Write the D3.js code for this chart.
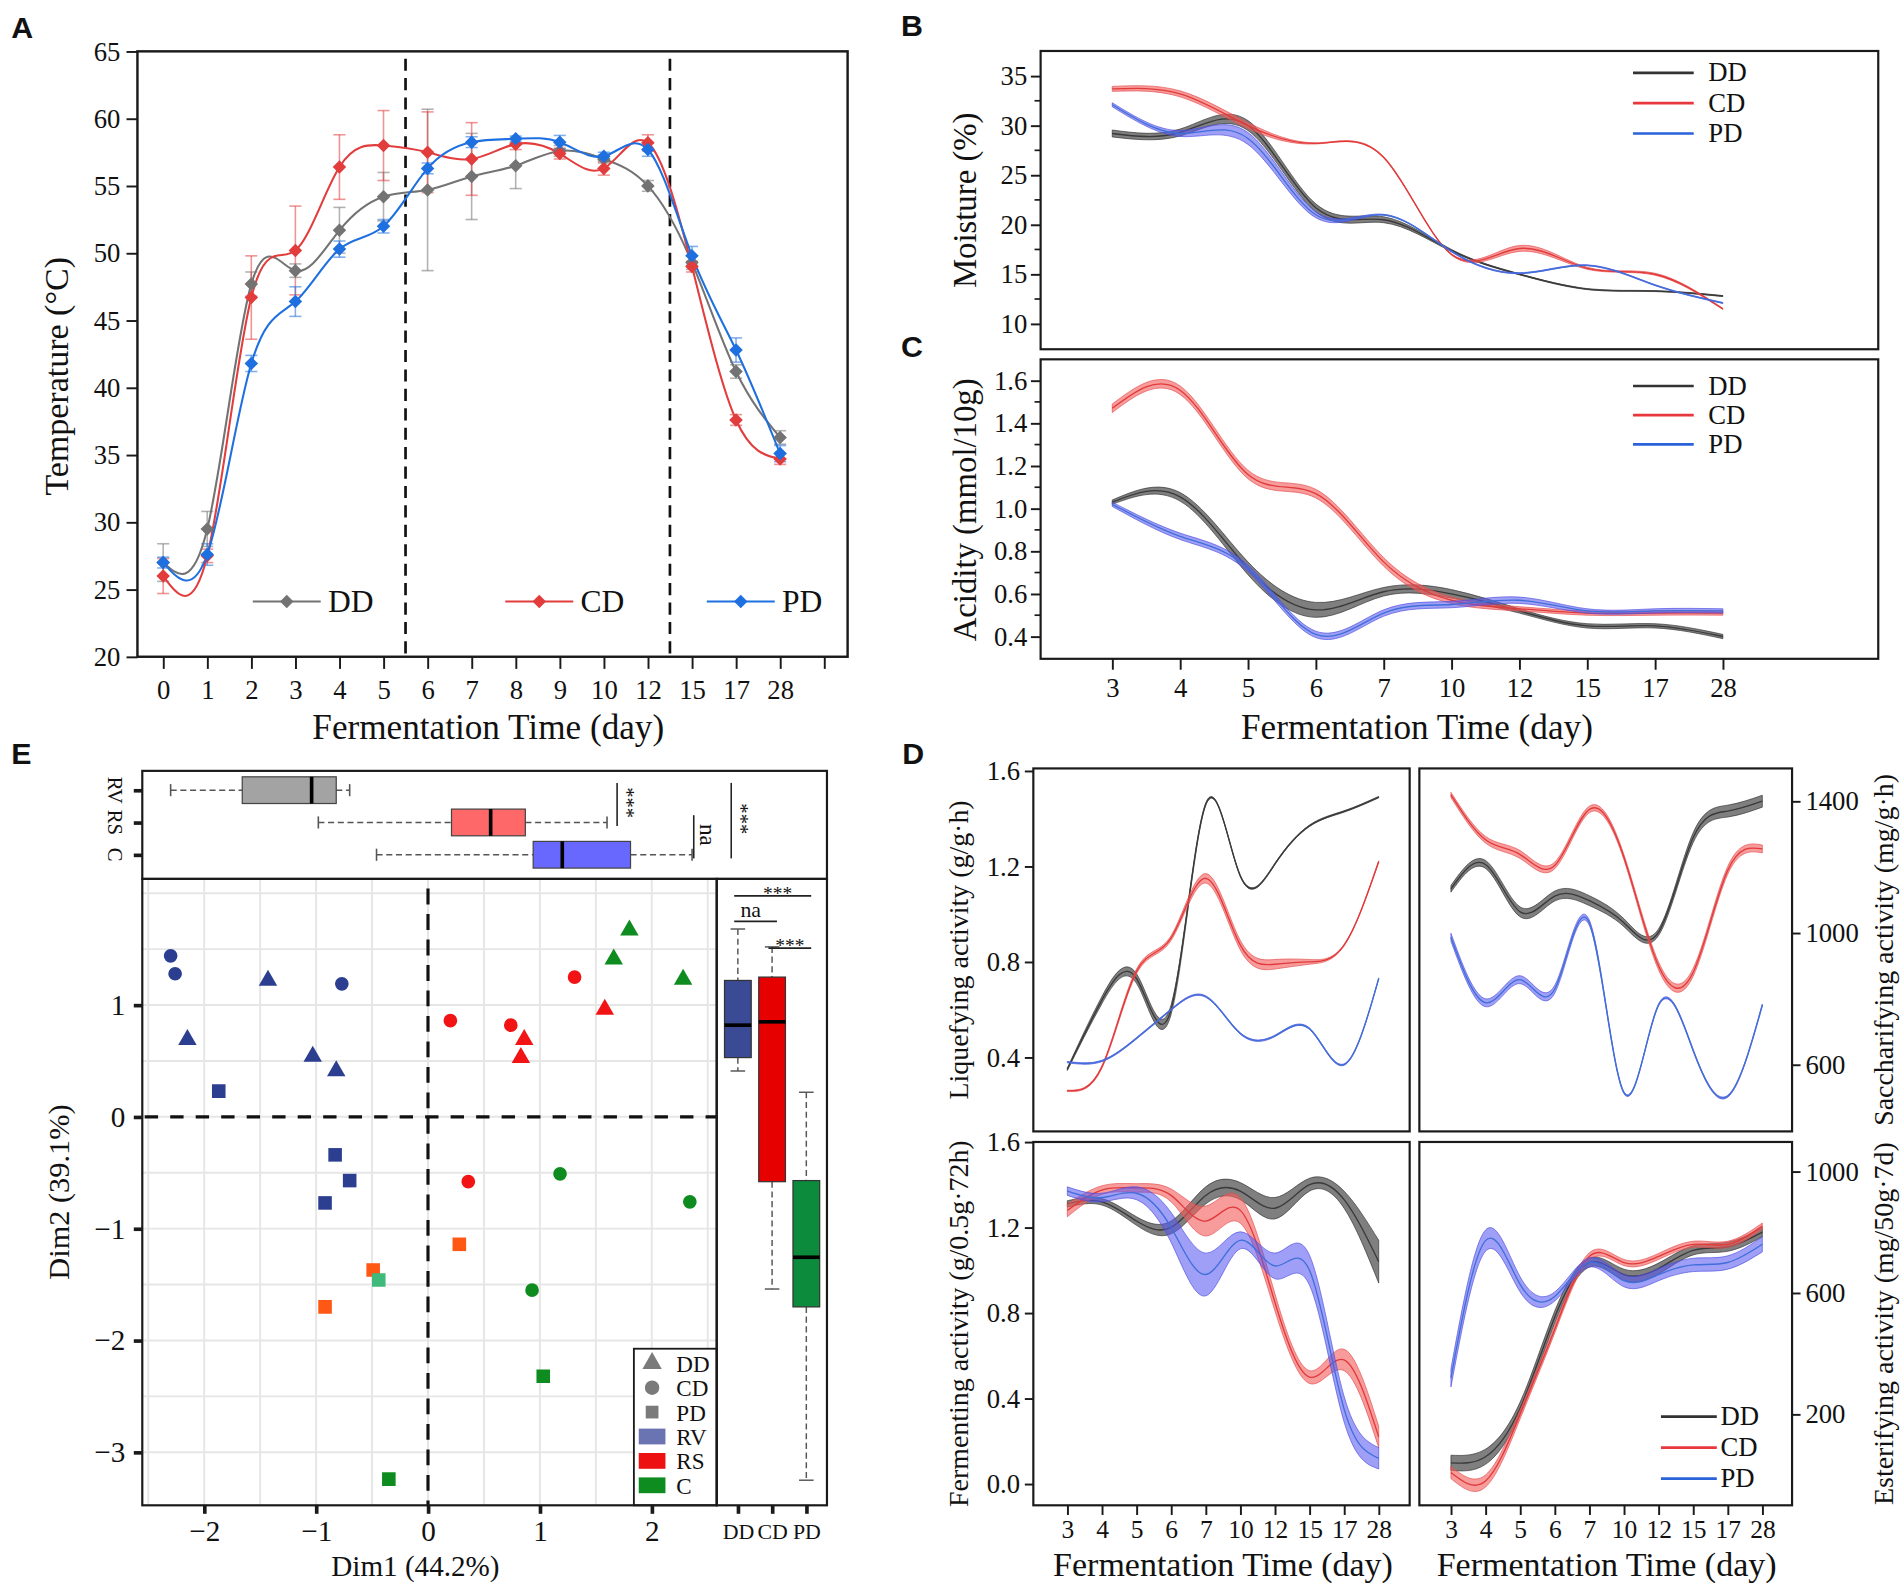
<!DOCTYPE html>
<html>
<head>
<meta charset="UTF-8">
<title>Fermentation figure</title>
<script src="https://d3js.org/d3.v7.min.js"></script>
<style>
  body { margin: 0; background: #fff; }
  svg { display: block; }
  text { font-family: "Liberation Serif", "Times New Roman", Times, serif; fill: #111; }
</style>
</head>
<body>
<div id="chart"></div>
<script>
// ---------------- data ----------------
// A: temperature
const daysA = ["0","1","2","3","4","5","6","7","8","9","10","12","15","17","28"];
const tempDD    = [27.0, 29.5, 47.7, 48.7, 51.7, 54.2, 54.7, 55.7, 56.5, 57.6, 57.0, 55.0, 49.3, 41.2, 36.3];
const tempDDErr = [1.4, 1.3, 0.9, 0.5, 1.7, 1.8, 6.0, 3.2, 1.7, 0.4, 0.3, 0.4, 0.5, 0.5, 0.5];
const tempCD    = [26.0, 27.5, 46.7, 50.2, 56.4, 58.0, 57.5, 57.0, 58.1, 57.4, 56.3, 58.2, 49.0, 37.6, 34.7];
const tempCDErr = [1.3, 0.5, 3.1, 3.3, 2.4, 2.6, 3.0, 2.7, 0.4, 0.4, 0.5, 0.6, 0.4, 0.4, 0.4];
const tempPD    = [27.0, 27.6, 41.8, 46.4, 50.3, 52.0, 56.3, 58.25, 58.5, 58.25, 57.2, 57.7, 49.8, 42.8, 35.1];
const tempPDErr = [0.4, 0.8, 0.6, 1.1, 0.6, 0.5, 0.4, 0.4, 0.2, 0.5, 0.3, 0.5, 0.7, 0.9, 0.6];

// B, C, D share these sampling days
const daysD = ["3","4","5","6","7","10","12","15","17","28"];

// B: moisture (%)
const moistDD   = [29.2, 29.3, 30.0, 21.7, 20.5, 17.4, 15.0, 13.5, 13.3, 12.8];
const moistDDsd = [0.35, 0.35, 0.5, 0.4, 0.3, 0.1, 0.05, 0.05, 0.05, 0.05];
const moistCD   = [33.7, 33.2, 30.0, 28.2, 26.8, 17.0, 17.6, 15.6, 15.0, 11.5];
const moistCDsd = [0.25, 0.3, 0.3, 0.06, 0.06, 0.06, 0.3, 0.1, 0.1, 0.05];
const moistPD   = [32.1, 29.2, 28.7, 21.0, 21.0, 17.3, 15.1, 15.9, 13.9, 12.1];
const moistPDsd = [0.2, 0.3, 0.6, 0.3, 0.05, 0.05, 0.05, 0.05, 0.05, 0.05];

// C: acidity (mmol/10g)
const acidDD   = [1.03, 1.055, 0.72, 0.525, 0.61, 0.60, 0.52, 0.45, 0.45, 0.40];
const acidDDsd = [0.01, 0.02, 0.03, 0.035, 0.02, 0.02, 0.01, 0.01, 0.01, 0.01];
const acidCD   = [1.47, 1.555, 1.16, 1.07, 0.75, 0.57, 0.53, 0.51, 0.51, 0.51];
const acidCDsd = [0.02, 0.02, 0.02, 0.02, 0.02, 0.015, 0.01, 0.01, 0.01, 0.01];
const acidPD   = [1.02, 0.87, 0.72, 0.41, 0.51, 0.55, 0.57, 0.52, 0.52, 0.52];
const acidPDsd = [0.01, 0.015, 0.015, 0.015, 0.015, 0.015, 0.015, 0.01, 0.01, 0.01];

// D: enzyme activities
const liqDD   = [0.35, 0.64, 0.73, 0.60, 1.46, 1.16, 1.21, 1.37, 1.43, 1.49];
const liqDDsd = [0.005, 0.015, 0.02, 0.02, 0.005, 0.003, 0.003, 0.003, 0.003, 0.003];
const liqCD   = [0.26, 0.36, 0.76, 0.90, 1.15, 0.87, 0.79, 0.80, 0.87, 1.22];
const liqCDsd = [0.003, 0.005, 0.01, 0.01, 0.02, 0.02, 0.02, 0.01, 0.003, 0.003];
const liqPD   = [0.38, 0.385, 0.48, 0.60, 0.655, 0.50, 0.49, 0.52, 0.37, 0.73];
const liqPDsd = [0.003, 0.003, 0.003, 0.003, 0.003, 0.003, 0.003, 0.003, 0.003, 0.003];

const sacDD   = [1134, 1208, 1064, 1112, 1098, 1031, 1002, 1289, 1370, 1400];
const sacDDsd = [10, 12, 15, 15, 15, 12, 10, 15, 18, 18];
const sacCD   = [1419, 1283, 1238, 1205, 1375, 1230, 900, 880, 1190, 1255];
const sacCDsd = [8, 10, 12, 10, 10, 8, 12, 12, 12, 12];
const sacPD   = [987, 788, 858, 829, 1031, 515, 781, 644, 504, 781];
const sacPDsd = [12, 12, 12, 12, 8, 3, 3, 3, 3, 3];

const ferDD   = [1.31, 1.32, 1.23, 1.20, 1.35, 1.37, 1.29, 1.40, 1.33, 1.04];
const ferDDsd = [0.015, 0.015, 0.02, 0.03, 0.04, 0.04, 0.05, 0.03, 0.04, 0.1];
const ferCD   = [1.28, 1.375, 1.385, 1.35, 1.23, 1.28, 0.85, 0.50, 0.58, 0.22];
const ferCDsd = [0.03, 0.02, 0.02, 0.03, 0.07, 0.06, 0.04, 0.03, 0.05, 0.05];
const ferPD   = [1.37, 1.34, 1.36, 1.20, 0.98, 1.14, 1.02, 1.00, 0.35, 0.12];
const ferPDsd = [0.02, 0.02, 0.03, 0.07, 0.10, 0.04, 0.06, 0.07, 0.06, 0.05];

const estDD   = [40, 60, 220, 520, 700, 660, 680, 740, 752, 800];
const estDDsd = [25, 25, 20, 20, 15, 18, 18, 15, 15, 15];
const estCD   = [8, -20, 200, 480, 720, 700, 720, 760, 760, 820];
const estCDsd = [20, 20, 15, 12, 12, 10, 10, 10, 10, 10];
const estPD   = [320, 772, 628, 588, 700, 640, 660, 692, 700, 760];
const estPDsd = [30, 35, 25, 15, 15, 20, 20, 22, 22, 25];

// E: PCA scores
const pcaDim1  = [-2.30, -2.26, -0.77, -2.15, -1.43, -1.03, -0.82, -1.87, -0.83, -0.70, -0.92,
                  0.20, 0.74, 1.31, 0.36, 0.86, 0.83, 1.58, 0.28, -0.49, -0.92,
                  -0.44, 1.18, 2.34, 0.93, 1.80, 1.66, 2.28, 1.03, -0.35];
const pcaDim2  = [1.44, 1.28, 1.19, 0.69, 1.22, 0.54, 0.41, 0.23, -0.34, -0.57, -0.77,
                  0.86, 0.82, 1.25, -0.58, 0.69, 0.53, 0.96, -1.14, -1.37, -1.70,
                  -1.46, -0.51, -0.76, -1.55, 1.67, 1.41, 1.23, -2.32, -3.24];
const pcaMethod = ["CD","CD","CD","DD","DD","DD","DD","PD","PD","PD","PD",
                   "CD","CD","CD","CD","DD","DD","DD","PD","PD","PD",
                   "PD","CD","CD","CD","DD","DD","DD","PD","PD"];
const pcaGroup  = ["RV","RV","RV","RV","RV","RV","RV","RV","RV","RV","RV",
                   "RS","RS","RS","RS","RS","RS","RS","RSb","RSb","RSb",
                   "Cb","C","C","C","C","C","C","C","C"];

// E: boxplots of Dim1 by group (top) and Dim2 by method (right)
const boxGroups = ["RV","RS","C"];
const gMin = [-2.30, -0.98, -0.46];
const gQ1  = [-1.66, 0.21, 0.94];
const gMed = [-1.04, 0.56, 1.20];
const gQ3  = [-0.82, 0.87, 1.81];
const gMax = [-0.70, 1.60, 2.36];

const boxMethods = ["DD","CD","PD"];
const mMin = [0.41, -1.54, -3.25];
const mQ1  = [0.53, -0.58, -1.70];
const mMed = [0.82, 0.85, -1.256];
const mQ3  = [1.22, 1.25, -0.57];
const mMax = [1.68, 1.52, 0.22];

// ---------------- setup ----------------
const SERIF = '"Liberation Serif", "Times New Roman", Times, serif';
const SANS = '"Liberation Sans", Arial, sans-serif';

const svg = d3.select("#chart").append("svg")
  .attr("width", 1904).attr("height", 1583)
  .attr("viewBox", "0 0 1568 1304");
svg.append("rect").attr("width", 1568).attr("height", 1304).attr("fill", "#fff");
const defs = svg.append("defs");

function clip(id, f) {
  defs.append("clipPath").attr("id", id).append("rect")
    .attr("x", f.l).attr("y", f.t).attr("width", f.r - f.l).attr("height", f.b - f.t);
}
function frame(g, f, w) {
  g.append("rect").attr("x", f.l).attr("y", f.t).attr("width", f.r - f.l).attr("height", f.b - f.t)
    .attr("fill", "none").attr("stroke", "#1a1a1a").attr("stroke-width", w || 1.8);
}
function text(g, x, y, str, size, anchor, family, weight) {
  const t = g.append("text").attr("x", x).attr("y", y).text(str)
    .attr("font-size", size).attr("text-anchor", anchor || "start")
    .style("font-family", family || SERIF);
  if (weight) t.attr("font-weight", weight);
  return t;
}
function vtext(g, cx, cy, str, size, rot) {
  return g.append("text").attr("transform", `translate(${cx},${cy}) rotate(${rot || -90})`)
    .attr("text-anchor", "middle").attr("dy", "0.35em")
    .attr("font-size", size).style("font-family", SERIF).text(str);
}
function tidy(sel, size, lw) {
  sel.attr("font-family", null).attr("font-size", null);
  sel.select(".domain").remove();
  sel.selectAll(".tick line").attr("stroke", "#1a1a1a").attr("stroke-width", lw || 1.6);
  sel.selectAll(".tick text").attr("font-size", size).attr("fill", "#111").style("font-family", SERIF);
}
function minorTicks(g, scale, values, x, len) {
  g.selectAll(null).data(values).join("line")
    .attr("x1", x - len).attr("x2", x).attr("y1", d => scale(d)).attr("y2", d => scale(d))
    .attr("stroke", "#1a1a1a").attr("stroke-width", 1.4);
}

const bandStyle = {
  DD: { fill: "#4d4d4d", alpha: 0.72, edge: "#333", line: "#3a3a3a", key: "#333333" },
  CD: { fill: "#f25e5e", alpha: 0.62, edge: "#e65050", line: "#e23a3a", key: "#e8383d" },
  PD: { fill: "#5a5af2", alpha: 0.58, edge: "#5050e0", line: "#3f6fd8", key: "#2962d9" }
};

function bands(g, x, y, list, clipId) {
  list.forEach(s => {
    const st = bandStyle[s.name];
    const pts = daysD.map((d, i) => [d, s.mean[i], s.sd[i]]);
    g.append("path").datum(pts).attr("clip-path", `url(#${clipId})`)
      .attr("d", d3.area().curve(d3.curveNatural)
        .x(p => x(p[0])).y0(p => y(p[1] - p[2])).y1(p => y(p[1] + p[2])))
      .attr("fill", st.fill).attr("fill-opacity", st.alpha)
      .attr("stroke", st.edge).attr("stroke-width", 0.7).attr("stroke-opacity", 0.8);
    g.append("path").datum(pts).attr("clip-path", `url(#${clipId})`)
      .attr("d", d3.line().curve(d3.curveNatural).x(p => x(p[0])).y(p => y(p[1])))
      .attr("fill", "none").attr("stroke", st.line).attr("stroke-width", 1.1);
  });
}
function keyLegend(g, x, y0, step, size, len, gap) {
  ["DD", "CD", "PD"].forEach((n, i) => {
    const y = y0 + i * step;
    g.append("line").attr("x1", x).attr("x2", x + len).attr("y1", y).attr("y2", y)
      .attr("stroke", bandStyle[n].key).attr("stroke-width", 2.2);
    text(g, x + len + gap, y + 7, n, size);
  });
}

// panel letters
[["A", 9, 31], ["B", 742, 30], ["C", 742, 294], ["D", 743, 629], ["E", 9, 629]].forEach(([s, x, y]) =>
  text(svg, x, y, s, 25, "start", SANS, "bold"));

// ---------------- A ----------------
const gA = svg.append("g");
const fA = { l: 113, r: 698, t: 42.3, b: 541 };
const xA = d3.scalePoint().domain(d3.range(daysA.length + 1)).range([134.2, 678.7]);
const yA = d3.scaleLinear().domain([20, 65]).range([541, 42.3]);
const colA = { DD: "#737373", CD: "#e23c3c", PD: "#1e6fdf" };
const seriesA = [
  { name: "DD", v: tempDD, e: tempDDErr },
  { name: "CD", v: tempCD, e: tempCDErr },
  { name: "PD", v: tempPD, e: tempPDErr }
];

// stage separators, halfway between day 5/6 and day 12/15
[[5, 6], [11, 12]].forEach(([a, b]) => {
  const x = (xA(a) + xA(b)) / 2;
  gA.append("line").attr("x1", x).attr("x2", x).attr("y1", fA.t + 6).attr("y2", fA.b)
    .attr("stroke", "#111").attr("stroke-width", 2.2).attr("stroke-dasharray", "10,6");
});

seriesA.forEach(s => {
  const eg = gA.append("g").attr("stroke", colA[s.name]).attr("stroke-opacity", 0.55).attr("stroke-width", 1.3);
  s.v.forEach((v, i) => {
    const x = xA(i), y1 = yA(v - s.e[i]), y2 = yA(v + s.e[i]);
    eg.append("line").attr("x1", x).attr("x2", x).attr("y1", y1).attr("y2", y2);
    eg.append("line").attr("x1", x - 5).attr("x2", x + 5).attr("y1", y1).attr("y2", y1);
    eg.append("line").attr("x1", x - 5).attr("x2", x + 5).attr("y1", y2).attr("y2", y2);
  });
});
const lineA = d3.line().curve(d3.curveNatural).x((d, i) => xA(i)).y(d => yA(d));
seriesA.forEach(s => {
  gA.append("path").datum(s.v).attr("d", lineA)
    .attr("fill", "none").attr("stroke", colA[s.name]).attr("stroke-width", 1.7);
});
const diamond = d3.symbol(d3.symbolSquare, 62);
seriesA.forEach(s => {
  gA.selectAll(null).data(s.v).join("path")
    .attr("d", diamond)
    .attr("transform", (d, i) => `translate(${xA(i)},${yA(d)}) rotate(45)`)
    .attr("fill", colA[s.name]);
});
[["DD", 208], ["CD", 416], ["PD", 582]].forEach(([n, x]) => {
  const y = 495.5;
  gA.append("line").attr("x1", x).attr("x2", x + 56).attr("y1", y).attr("y2", y)
    .attr("stroke", colA[n]).attr("stroke-width", 1.8);
  gA.append("path").attr("d", diamond).attr("transform", `translate(${x + 28},${y}) rotate(45)`)
    .attr("fill", colA[n]);
  text(gA, x + 62, y + 9, n, 26);
});
gA.append("g").attr("transform", `translate(${fA.l},0)`)
  .call(d3.axisLeft(yA).tickValues(d3.range(20, 66, 5)).tickSize(9).tickPadding(5))
  .call(s => tidy(s, 22));
gA.append("g").attr("transform", `translate(0,${fA.b})`)
  .call(d3.axisBottom(xA).tickSize(10).tickPadding(9).tickFormat(i => daysA[i] || ""))
  .call(s => tidy(s, 22));
frame(gA, fA, 2);
text(gA, 402, 609, "Fermentation Time (day)", 29, "middle");
vtext(gA, 46, 310, "Temperature (°C)", 28);

// ---------------- B ----------------
const xBC = d3.scalePoint().domain(daysD).range([916, 1419]);
const gB = svg.append("g");
const fB = { l: 857, r: 1547, t: 42, b: 287.7 };
const yMoist = d3.scaleLinear().domain([15, 35]).range([225.9, 62.6]);
clip("cB", fB);
bands(gB, xBC, yMoist, [
  { name: "DD", mean: moistDD, sd: moistDDsd },
  { name: "CD", mean: moistCD, sd: moistCDsd },
  { name: "PD", mean: moistPD, sd: moistPDsd }
], "cB");
gB.append("g").attr("transform", `translate(${fB.l},0)`)
  .call(d3.axisLeft(yMoist).tickValues(d3.range(10, 36, 5)).tickSize(8).tickPadding(3))
  .call(s => tidy(s, 22));
minorTicks(gB, yMoist, [12.5, 17.5, 22.5, 27.5, 32.5], fB.l, 5);
frame(gB, fB);
keyLegend(gB, 1345, 60, 25, 22, 50, 12);
vtext(gB, 794, 165, "Moisture (%)", 27);

// ---------------- C ----------------
const gC = svg.append("g");
const fC = { l: 857, r: 1547, t: 296, b: 542.7 };
const yAcid = d3.scaleLinear().domain([0.6, 1.6]).range([489.2, 313.5]);
clip("cC", fC);
bands(gC, xBC, yAcid, [
  { name: "DD", mean: acidDD, sd: acidDDsd },
  { name: "CD", mean: acidCD, sd: acidCDsd },
  { name: "PD", mean: acidPD, sd: acidPDsd }
], "cC");
gC.append("g").attr("transform", `translate(${fC.l},0)`)
  .call(d3.axisLeft(yAcid).tickValues([0.4, 0.6, 0.8, 1.0, 1.2, 1.4, 1.6]).tickSize(8).tickPadding(3)
    .tickFormat(d3.format(".1f")))
  .call(s => tidy(s, 22));
minorTicks(gC, yAcid, [0.5, 0.7, 0.9, 1.1, 1.3, 1.5], fC.l, 5);
gC.append("g").attr("transform", `translate(0,${fC.b})`)
  .call(d3.axisBottom(xBC).tickSize(9).tickPadding(7))
  .call(s => tidy(s, 22));
frame(gC, fC);
keyLegend(gC, 1345, 318, 24, 22, 50, 12);
vtext(gC, 794, 420, "Acidity (mmol/10g)", 27);
text(gC, 1167, 609, "Fermentation Time (day)", 29, "middle");

// ---------------- D ----------------
const gD = svg.append("g");
const DL = { l: 851, r: 1161 }, DR = { l: 1169, r: 1476 };
const DT = { t: 633, b: 932 }, DB = { t: 940.7, b: 1240 };
const fTL = { ...DL, ...DT }, fTR = { ...DR, ...DT }, fBL = { ...DL, ...DB }, fBR = { ...DR, ...DB };
const xDL = d3.scalePoint().domain(daysD).range([879, 1135.5]);
const xDR = d3.scalePoint().domain(daysD).range([1195, 1451.5]);
const yLiq = d3.scaleLinear().domain([0.4, 1.6]).range([871, 635]);
const ySac = d3.scaleLinear().domain([600, 1400]).range([877, 660]);
const yFer = d3.scaleLinear().domain([0, 1.6]).range([1222.4, 940.7]);
const yEst = d3.scaleLinear().domain([200, 1000]).range([1165, 965]);
[["cTL", fTL], ["cTR", fTR], ["cBL", fBL], ["cBR", fBR]].forEach(([id, f]) => clip(id, f));

bands(gD, xDL, yLiq, [
  { name: "DD", mean: liqDD, sd: liqDDsd },
  { name: "CD", mean: liqCD, sd: liqCDsd },
  { name: "PD", mean: liqPD, sd: liqPDsd }
], "cTL");
bands(gD, xDR, ySac, [
  { name: "DD", mean: sacDD, sd: sacDDsd },
  { name: "CD", mean: sacCD, sd: sacCDsd },
  { name: "PD", mean: sacPD, sd: sacPDsd }
], "cTR");
bands(gD, xDL, yFer, [
  { name: "DD", mean: ferDD, sd: ferDDsd },
  { name: "CD", mean: ferCD, sd: ferCDsd },
  { name: "PD", mean: ferPD, sd: ferPDsd }
], "cBL");
bands(gD, xDR, yEst, [
  { name: "DD", mean: estDD, sd: estDDsd },
  { name: "CD", mean: estCD, sd: estCDsd },
  { name: "PD", mean: estPD, sd: estPDsd }
], "cBR");

const intFmt = d3.format("d");
gD.append("g").attr("transform", `translate(${DL.l},0)`)
  .call(d3.axisLeft(yLiq).tickValues([0.4, 0.8, 1.2, 1.6]).tickSize(7).tickPadding(4).tickFormat(d3.format(".1f")))
  .call(s => tidy(s, 22));
gD.append("g").attr("transform", `translate(${DL.l},0)`)
  .call(d3.axisLeft(yFer).tickValues([0, 0.4, 0.8, 1.2, 1.6]).tickSize(7).tickPadding(4).tickFormat(d3.format(".1f")))
  .call(s => tidy(s, 22));
gD.append("g").attr("transform", `translate(${DR.r},0)`)
  .call(d3.axisRight(ySac).tickValues([600, 1000, 1400]).tickSize(7).tickPadding(4).tickFormat(intFmt))
  .call(s => tidy(s, 22));
gD.append("g").attr("transform", `translate(${DR.r},0)`)
  .call(d3.axisRight(yEst).tickValues([200, 600, 1000]).tickSize(7).tickPadding(4).tickFormat(intFmt))
  .call(s => tidy(s, 22));
gD.append("g").attr("transform", `translate(0,${DB.b})`)
  .call(d3.axisBottom(xDL).tickSize(8).tickPadding(4)).call(s => tidy(s, 21));
gD.append("g").attr("transform", `translate(0,${DB.b})`)
  .call(d3.axisBottom(xDR).tickSize(8).tickPadding(4)).call(s => tidy(s, 21));
[fTL, fTR, fBL, fBR].forEach(f => frame(gD, f));
keyLegend(gD, 1368, 1167, 25.5, 22, 46, 3);
vtext(gD, 789, (DT.t + DT.b) / 2, "Liquefying activity (g/g·h)", 23);
vtext(gD, 789, (DB.t + DB.b) / 2, "Fermenting activity (g/0.5g·72h)", 23);
vtext(gD, 1551, (DT.t + DT.b) / 2, "Saccharifying activity (mg/g·h)", 23);
vtext(gD, 1551, (DB.t + DB.b) / 2, "Esterifying activity (mg/50g·7d)", 23);
text(gD, (879 + 1135.5) / 2, 1298, "Fermentation Time (day)", 28, "middle");
text(gD, (1195 + 1451.5) / 2, 1298, "Fermentation Time (day)", 28, "middle");

// ---------------- E ----------------
const gE = svg.append("g");
const fTop = { l: 117, r: 681, t: 635, b: 724 };
const fSc = { l: 117, r: 590.2, t: 724, b: 1240 };
const fRt = { l: 590.2, r: 681, t: 724, b: 1240 };
const xDim1 = d3.scaleLinear().domain([-2, 2]).range([168, 536.7]);
const yDim2 = d3.scaleLinear().domain([-3, 1]).range([1196.3, 827.9]);
clip("cSc", fSc);

// grid
const grid = gE.append("g").attr("clip-path", "url(#cSc)").attr("stroke", "#e6e6e6").attr("stroke-width", 1.6);
d3.range(-2.5, 2.51, 0.5).forEach(v =>
  grid.append("line").attr("x1", xDim1(v)).attr("x2", xDim1(v)).attr("y1", fSc.t).attr("y2", fSc.b));
d3.range(-3.5, 2.01, 0.5).forEach(v =>
  grid.append("line").attr("x1", fSc.l).attr("x2", fSc.r).attr("y1", yDim2(v)).attr("y2", yDim2(v)));
gE.append("line").attr("x1", xDim1(0)).attr("x2", xDim1(0)).attr("y1", fSc.t + 8).attr("y2", fSc.b)
  .attr("stroke", "#111").attr("stroke-width", 2.6).attr("stroke-dasharray", "13,8");
gE.append("line").attr("x1", fSc.l + 2).attr("x2", fSc.r).attr("y1", yDim2(0)).attr("y2", yDim2(0))
  .attr("stroke", "#111").attr("stroke-width", 2.6).attr("stroke-dasharray", "11,10");

const pcaColour = { RV: "#2c3e8f", RS: "#f21414", RSb: "#ff5714", C: "#0f8c1f", Cb: "#3fba7a" };
const pcaSymbol = {
  DD: d3.symbol(d3.symbolTriangle, 100),
  CD: d3.symbol(d3.symbolCircle, 100),
  PD: d3.symbol(d3.symbolSquare, 125)
};
gE.append("g").attr("clip-path", "url(#cSc)").selectAll("path").data(d3.range(pcaDim1.length)).join("path")
  .attr("d", i => pcaSymbol[pcaMethod[i]]())
  .attr("transform", i => `translate(${xDim1(pcaDim1[i])},${yDim2(pcaDim2[i])})`)
  .attr("fill", i => pcaColour[pcaGroup[i]]);

// legend inside scatter
const lg = { l: xDim1(1.84), r: fSc.r, t: yDim2(-2.074), b: fSc.b };
gE.append("rect").attr("x", lg.l).attr("y", lg.t).attr("width", lg.r - lg.l).attr("height", lg.b - lg.t)
  .attr("fill", "#fff").attr("stroke", "#1a1a1a").attr("stroke-width", 1.5);
const legendShape = { DD: d3.symbolTriangle, CD: d3.symbolCircle, PD: d3.symbolSquare };
const legendFill = { RV: "#6a74b2", RS: "#ee1111", C: "#0f8c1f" };
["DD", "CD", "PD", "RV", "RS", "C"].forEach((n, i) => {
  const y = lg.t + 12 + i * 20.1;
  if (legendShape[n]) {
    gE.append("path").attr("d", d3.symbol(legendShape[n], 110)())
      .attr("transform", `translate(${lg.l + 15},${y})`).attr("fill", "#7a7a7a");
  } else {
    gE.append("rect").attr("x", lg.l + 4).attr("y", y - 6.5).attr("width", 22).attr("height", 13)
      .attr("fill", legendFill[n]);
  }
  text(gE, lg.l + 35, y + 7, n, 19);
});

// top boxplot (Dim1 by group)
const yBox = d3.scalePoint().domain(boxGroups).range([650.9, 704.1]);
const boxFill = { RV: "#a3a3a3", RS: "#ff6868", C: "#6868ff" };
boxGroups.forEach((gname, i) => {
  const y = yBox(gname);
  const w = gE.append("g").attr("stroke", "#555").attr("stroke-width", 1.3);
  w.append("line").attr("x1", xDim1(gMin[i])).attr("x2", xDim1(gQ1[i])).attr("y1", y).attr("y2", y).attr("stroke-dasharray", "5,3");
  w.append("line").attr("x1", xDim1(gQ3[i])).attr("x2", xDim1(gMax[i])).attr("y1", y).attr("y2", y).attr("stroke-dasharray", "5,3");
  [gMin[i], gMax[i]].forEach(v =>
    w.append("line").attr("x1", xDim1(v)).attr("x2", xDim1(v)).attr("y1", y - 5).attr("y2", y + 5));
  gE.append("rect").attr("x", xDim1(gQ1[i])).attr("y", y - 11).attr("width", xDim1(gQ3[i]) - xDim1(gQ1[i])).attr("height", 22)
    .attr("fill", boxFill[gname]).attr("stroke", "#444").attr("stroke-width", 1);
  gE.append("line").attr("x1", xDim1(gMed[i])).attr("x2", xDim1(gMed[i])).attr("y1", y - 11).attr("y2", y + 11)
    .attr("stroke", "#000").attr("stroke-width", 3);
});
gE.append("g").attr("transform", `translate(${fTop.l},0)`)
  .call(d3.axisLeft(yBox).tickSize(7).tickFormat(""))
  .call(s => tidy(s, 20, 3));
boxGroups.forEach(gname => vtext(gE, 95, yBox(gname), gname, 17, 90));
// significance marks (top)
[[1.69, "RV", "RS", "***", 1.78], [2.375, "RS", "C", "na", 2.5], [2.71, "RV", "C", "***", 2.8]].forEach(([x, a, b, lab, tx]) => {
  gE.append("line").attr("x1", xDim1(x)).attr("x2", xDim1(x)).attr("y1", yBox(a) - 6).attr("y2", yBox(b) + 3)
    .attr("stroke", "#222").attr("stroke-width", 1.3);
  vtext(gE, xDim1(tx), (yBox(a) + yBox(b)) / 2 - 3, lab, lab === "na" ? 19 : 17, 90);
});
frame(gE, fTop);

// right boxplot (Dim2 by method)
const xM = d3.scalePoint().domain(boxMethods).range([607.6, 664]);
const methodFill = { DD: "#3b4a95", CD: "#e60000", PD: "#0b8b3b" };
boxMethods.forEach((m, i) => {
  const x = xM(m);
  const w = gE.append("g").attr("stroke", "#555").attr("stroke-width", 1.2);
  w.append("line").attr("x1", x).attr("x2", x).attr("y1", yDim2(mMax[i])).attr("y2", yDim2(mQ3[i])).attr("stroke-dasharray", "5,3");
  w.append("line").attr("x1", x).attr("x2", x).attr("y1", yDim2(mQ1[i])).attr("y2", yDim2(mMin[i])).attr("stroke-dasharray", "5,3");
  [mMin[i], mMax[i]].forEach(v =>
    w.append("line").attr("x1", x - 6).attr("x2", x + 6).attr("y1", yDim2(v)).attr("y2", yDim2(v)));
  gE.append("rect").attr("x", x - 11).attr("y", yDim2(mQ3[i])).attr("width", 22).attr("height", yDim2(mQ1[i]) - yDim2(mQ3[i]))
    .attr("fill", methodFill[m]).attr("stroke", "#333").attr("stroke-width", 1);
  gE.append("line").attr("x1", x - 11).attr("x2", x + 11).attr("y1", yDim2(mMed[i])).attr("y2", yDim2(mMed[i]))
    .attr("stroke", "#000").attr("stroke-width", 3);
});
[["DD", "PD", 738, "***", 4], ["DD", "CD", 759, "na", -4], ["CD", "PD", 781, "***", 0]].forEach(([a, b, y, lab, dx]) => {
  const x1 = xM(a) - 3, x2 = xM(b) + 4;
  gE.append("line").attr("x1", x1).attr("x2", x2).attr("y1", y).attr("y2", y).attr("stroke", "#222").attr("stroke-width", 1.3);
  text(gE, (x1 + x2) / 2 + dx, lab === "na" ? y - 4 : y + 3, lab, lab === "na" ? 18 : 16, "middle");
});
frame(gE, fRt);
frame(gE, fSc);

// E axes
gE.append("g").attr("transform", `translate(${fSc.l},0)`)
  .call(d3.axisLeft(yDim2).tickValues([-3, -2, -1, 0, 1]).tickSize(7).tickPadding(7).tickFormat(intFmt))
  .call(s => tidy(s, 24, 3));
gE.append("g").attr("transform", `translate(0,${fSc.b})`)
  .call(d3.axisBottom(xDim1).tickValues([-2, -1, 0, 1, 2]).tickSize(7).tickPadding(5).tickFormat(intFmt))
  .call(s => tidy(s, 24, 3));
gE.append("g").attr("transform", `translate(0,${fRt.b})`)
  .call(d3.axisBottom(xM).tickSize(7).tickPadding(8))
  .call(s => tidy(s, 18, 3));
text(gE, 342, 1298, "Dim1 (44.2%)", 24, "middle");
vtext(gE, 48, (fSc.t + fSc.b) / 2, "Dim2 (39.1%)", 25);
</script>
</body>
</html>
